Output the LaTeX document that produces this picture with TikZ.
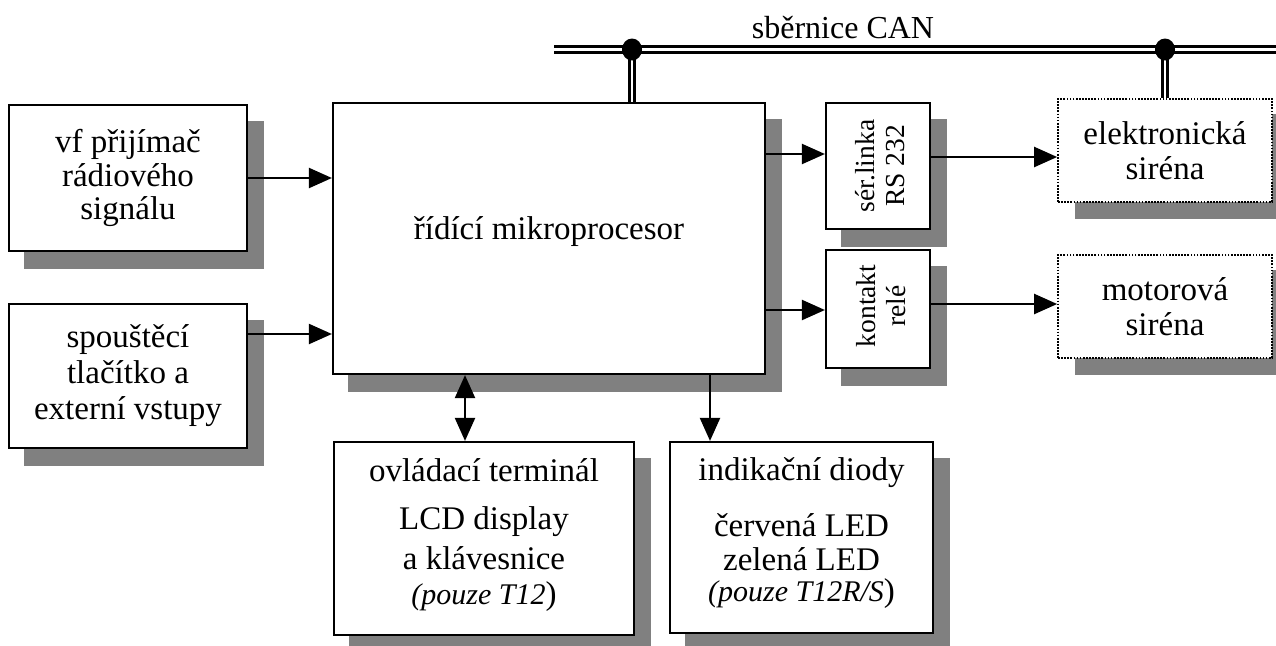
\documentclass[tikz,border=0pt]{standalone}
\usepackage{fontspec}
\setmainfont{Liberation Serif}
\usetikzlibrary{arrows.meta,backgrounds,calc}
\begin{document}
\begin{tikzpicture}[x=1pt,y=-1pt,
  box/.style={draw,line width=2.2pt,fill=white,inner sep=0pt,align=center,font=\fontsize{33}{36}\selectfont},
  dotbox/.style={box,line width=1.7pt,dash pattern=on 1.7pt off 1.4pt},
  txt/.style={inner sep=0pt,align=center,font=\fontsize{33}{36}\selectfont},
  vtxt/.style={inner sep=0pt,align=center,rotate=90,font=\fontsize{27.5}{30}\selectfont},
  tip/.tip={Triangle[length=23pt,width=20pt]},
  arr/.style={line width=2.2pt,-tip},
  darr/.style={line width=2.2pt,tip-tip},
  shade/.style={fill=black!50},
  bus/.style={draw=black,double=white,line width=2.8pt,double distance=2.6pt},
]
\useasboundingbox (0,0) rectangle (1276,645);

% boxes
\node[box,minimum width=238pt,minimum height=146pt,font=\fontsize{33}{33.5}\selectfont] (a) at (128,178) {vf přijímač\\rádiového\\signálu};
\node[box,minimum width=238pt,minimum height=144pt,font=\fontsize{33}{36}\selectfont] (b) at (128,376) {spouštěcí\\tlačítko a\\externí vstupy};
\node[box,minimum width=432pt,minimum height=271pt] (m) at (549,238.5) {};
\node[txt,anchor=base] (mtxt) at (549,239) {řídící mikroprocesor};
\node[box,minimum width=104pt,minimum height=126pt] (rs) at (878,166) {};
\node[vtxt] (rstxt) at (880,166) {sér.linka\\RS 232};
\node[box,minimum width=104pt,minimum height=118pt] (k) at (878,309) {};
\node[vtxt] (ktxt) at (881,306) {kontakt\\relé};
\node[dotbox,minimum width=214pt,minimum height=103pt,font=\fontsize{33}{35.5}\selectfont] (e) at (1165,150.5) {elektronická\\siréna};
\node[dotbox,minimum width=214pt,minimum height=103pt,font=\fontsize{33}{35.5}\selectfont] (mo) at (1165,306.5) {motorová\\siréna};
\node[box,minimum width=300pt,minimum height=193pt] (t) at (484,538.5) {};
\node[txt,anchor=north,font=\fontsize{33}{40}\selectfont] (ttxt) at (484,458) {ovládací terminál\\[8pt]LCD display\\a klávesnice\\[-5pt]{\fontsize{30}{33}\selectfont\itshape (pouze T12\/})};
\node[box,minimum width=263pt,minimum height=191pt] (i) at (801.5,537.5) {};
\node[txt,anchor=north,font=\fontsize{33}{34}\selectfont] (itxt) at (801.5,457) {indikační diody\\[22pt]červená LED\\zelená LED\\[-3pt]{\fontsize{30}{33}\selectfont\itshape (pouze T12R/S\/})};

% shadows
\begin{scope}[on background layer]
\foreach \n in {a,b,m,rs,k,t,i}{
  \fill[shade] ($(\n.north west)+(16,17)$) rectangle ($(\n.south east)+(16,17)$);
}
\foreach \n in {e,mo}{
  \fill[shade] ($(\n.north west)+(18,16)$) rectangle ($(\n.south east)+(18,16)$);
}
\end{scope}

% connectors
\draw[arr] (a.east) -- (m.west|-a.east);
\draw[arr] (b.east|-0,334) -- (m.west|-0,334);
\draw[arr] (m.east|-0,154) -- (rs.west|-0,154);
\draw[arr] (rs.east|-0,157) -- (e.west|-0,157);
\draw[arr] (m.east|-0,310) -- (k.west|-0,310);
\draw[arr] (k.east|-0,304) -- (mo.west|-0,304);
\draw[arr] (m.south-|710,0) -- (i.north-|710,0);
\draw[darr] (m.south-|465,0) -- (t.north-|465,0);

% CAN bus
\coordinate (busl) at (554,49.5);
\coordinate (busr) at (1276,49.5);
\coordinate (j1) at (632,49.5);
\coordinate (j2) at (1165,49.5);
\draw[bus] (busl) -- (busr);
\draw[bus] (j1) -- (m.north-|j1);
\draw[bus] (j2) -- (e.north-|j2);
\fill (j1) ellipse [x radius=10pt,y radius=11pt];
\fill (j2) ellipse [x radius=10pt,y radius=11pt];
\node[txt,font=\fontsize{32}{36}\selectfont] (can) at (843,28) {sběrnice CAN};
\end{tikzpicture}
\end{document}
